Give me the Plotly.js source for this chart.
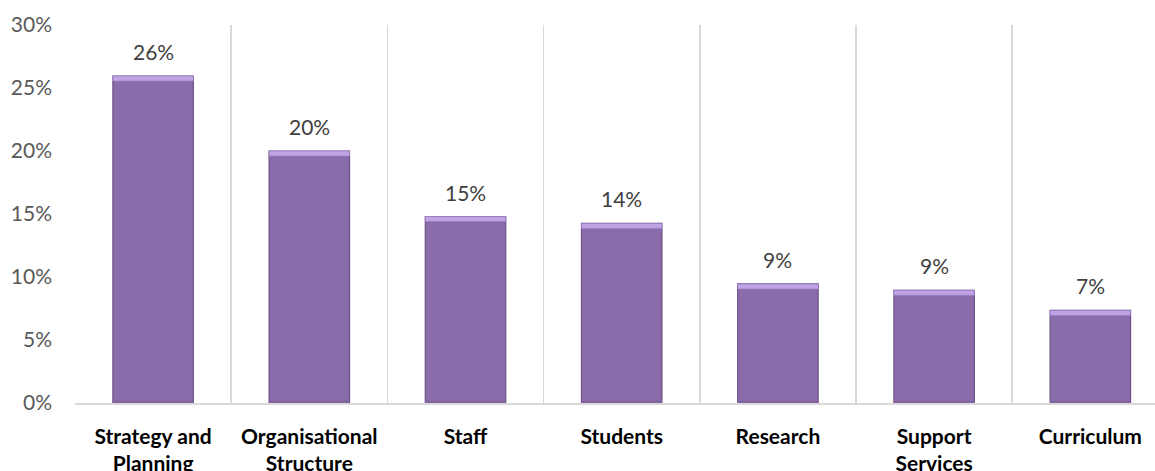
<!DOCTYPE html>
<html>
<head>
<meta charset="utf-8">
<script src="https://cdn.plot.ly/plotly-3.0.1.min.js"></script>
<style>html,body{margin:0;padding:0;background:#fff;}#chart{width:1155px;height:471px;}</style>
</head>
<body>
<div id="chart"></div>
<script>
var categories = ["Strategy and Planning", "Organisational Structure", "Staff", "Students", "Research", "Support Services", "Curriculum"];
var tickLabels = ["Strategy and<br>Planning", "Organisational<br>Structure", "Staff", "Students", "Research", "Support<br>Services", "Curriculum"];
var values = [25.95, 20.0, 14.8, 14.25, 9.45, 8.95, 7.35];
var yTicks = [0, 5, 10, 15, 20, 25, 30];

var bevel = 0.4;
var barW = 0.515;

var mainBar = {
  type: "bar",
  x: categories,
  y: values,
  width: barW,
  marker: {color: "#8a6cab", line: {color: "#6a5188", width: 1.2}},
  hoverinfo: "skip"
};
var topStrip = {
  type: "bar",
  x: categories,
  y: values.map(function(){ return bevel; }),
  base: values.map(function(v){ return v - bevel; }),
  width: barW,
  marker: {color: "#bfa3e4", line: {color: "#9c80c4", width: 0.8}},
  hoverinfo: "skip"
};
var bottomStrip = {
  type: "bar",
  x: categories,
  y: values.map(function(){ return 0.2; }),
  base: values.map(function(){ return 0; }),
  width: barW,
  marker: {color: "#80659f", line: {width: 0}},
  hoverinfo: "skip"
};

var annotations = categories.map(function(c, i){
  return {
    x: c, y: values[i], xref: "x", yref: "y",
    text: Math.round(values[i]) + "%",
    showarrow: false, yanchor: "bottom", yshift: 10,
    font: {family: "Lato, 'Open Sans', sans-serif", size: 21, color: "#404040"}
  };
});

var layout = {
  width: 1155, height: 471,
  margin: {l: 75, r: 0, t: 25, b: 67.5},
  paper_bgcolor: "#ffffff", plot_bgcolor: "#ffffff",
  barmode: "overlay",
  showlegend: false,
  xaxis: {
    type: "category",
    categoryorder: "array", categoryarray: categories,
    tickmode: "array", tickvals: categories, ticktext: tickLabels,
    range: [-0.5, 6.414],
    tickson: "boundaries",
    showgrid: true, gridcolor: "#d9d9d9", gridwidth: 1.5,
    showline: true, linecolor: "#d9d9d9", linewidth: 1.5,
    ticks: "", ticklabelstandoff: 14,
    tickfont: {family: "Lato, 'Open Sans', sans-serif", size: 21, color: "#000000", weight: "bold"},
    fixedrange: true
  },
  yaxis: {
    range: [0, 30],
    tickmode: "array", tickvals: yTicks, ticktext: yTicks.map(function(t){ return t + "%"; }),
    showgrid: false, zeroline: false, showline: false,
    ticks: "", ticklabelstandoff: 22,
    tickfont: {family: "Lato, 'Open Sans', sans-serif", size: 21, color: "#595959"},
    fixedrange: true
  },
  annotations: annotations
};

Plotly.newPlot("chart", [mainBar, bottomStrip, topStrip], layout, {displayModeBar: false, staticPlot: true});
</script>
</body>
</html>
